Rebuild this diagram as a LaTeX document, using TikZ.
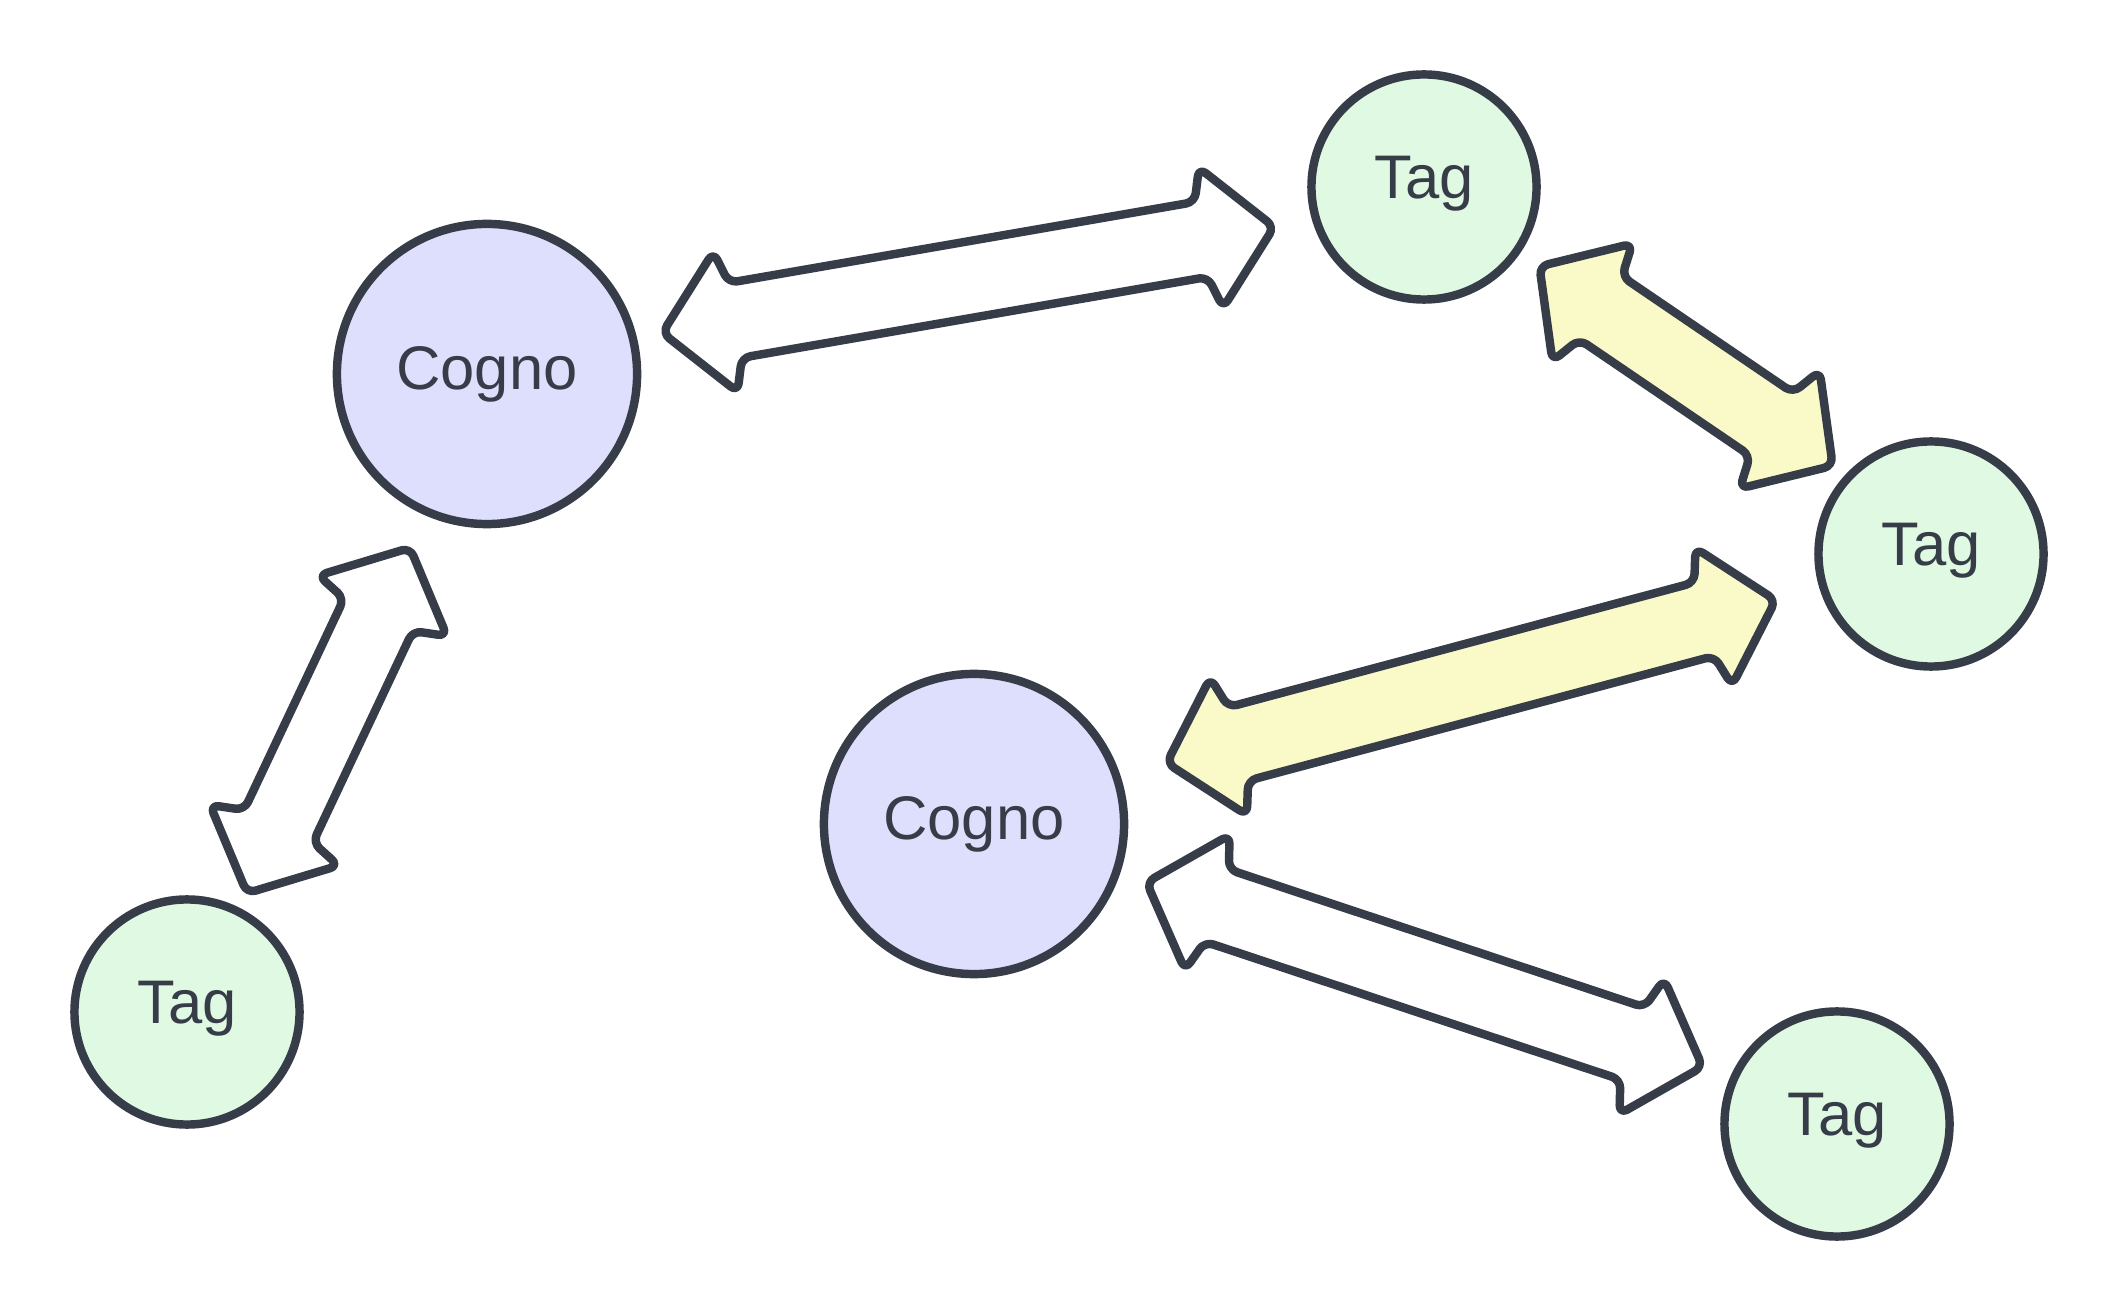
\documentclass[tikz,border=0pt]{standalone}
\usepackage{fontspec}
\setmainfont{Liberation Sans}
\usetikzlibrary{calc}

\definecolor{ink}{RGB}{55,61,72}
\definecolor{cognofill}{RGB}{222,222,253}
\definecolor{tagfill}{RGB}{224,249,226}
\definecolor{linkfill}{RGB}{250,250,201}

% double-headed block arrow: [fill]{from}{to}{tip distance}{tip angle}{tip distance}{tip angle}
\newcommand{\twoway}[7][white]{%
  \coordinate (tA) at ($(#2.center)!#4!#5:(#3.center)$);
  \coordinate (tB) at ($(#3.center)!#6!#7:(#2.center)$);
  \coordinate (hA) at ($(tA)!0.64cm!(tB)$);
  \coordinate (hB) at ($(tB)!0.64cm!(tA)$);
  \coordinate (sA) at ($(tA)!0.74cm!(tB)$);
  \coordinate (sB) at ($(tB)!0.74cm!(tA)$);
  \draw[linkarrow, fill=#1] (tA)
    -- ($(hA)!0.71cm!90:(tB)$) -- ($(sA)!0.38cm!90:(tB)$)
    -- ($(sB)!0.38cm!-90:(tA)$) -- ($(hB)!0.71cm!-90:(tA)$)
    -- (tB)
    -- ($(hB)!0.71cm!90:(tA)$) -- ($(sB)!0.38cm!90:(tA)$)
    -- ($(sA)!0.38cm!-90:(tB)$) -- ($(hA)!0.71cm!-90:(tB)$)
    -- cycle;
}

\begin{document}
\begin{tikzpicture}[x=0.01cm, y=-0.01cm,
    cognonode/.style={circle, draw=ink, line width=2.4pt, fill=cognofill,
      minimum size=3cm, inner sep=0pt, text=ink, font=\fontsize{17.5pt}{21pt}\selectfont},
    tagnode/.style={circle, draw=ink, line width=2.4pt, fill=tagfill,
      minimum size=2.25cm, inner sep=0pt, text=ink, text height=12.8pt, text depth=6pt,
      font=\fontsize{17.5pt}{21pt}\selectfont},
    linkarrow/.style={draw=ink, line width=2.4pt, rounded corners=2.5pt, line join=round}]
  \useasboundingbox (0,0) rectangle (2121,1313);

  % Nodes
  \node[cognonode] (cognoA) at (487,374) {Cogno};
  \node[cognonode] (cognoB) at (974,824) {Cogno};
  \node[tagnode] (tagTop) at (1424,187) {Tag};
  \node[tagnode] (tagRight) at (1931,554) {Tag};
  \node[tagnode] (tagBL) at (187,1012) {Tag};
  \node[tagnode] (tagBR) at (1837,1124) {Tag};

  % Links
  \twoway{cognoA}{tagTop}{1.80cm}{1.9}{1.55cm}{3.6}
  \twoway[linkfill]{tagTop}{tagRight}{1.40cm}{1.4}{1.32cm}{-6}
  \twoway[linkfill]{tagRight}{cognoB}{1.62cm}{0.8}{2.02cm}{1.8}
  \twoway{cognoB}{tagBR}{1.82cm}{0.5}{1.46cm}{-3.9}
  \twoway{cognoA}{tagBL}{1.90cm}{1.3}{1.33cm}{-1.6}
\end{tikzpicture}
\end{document}
